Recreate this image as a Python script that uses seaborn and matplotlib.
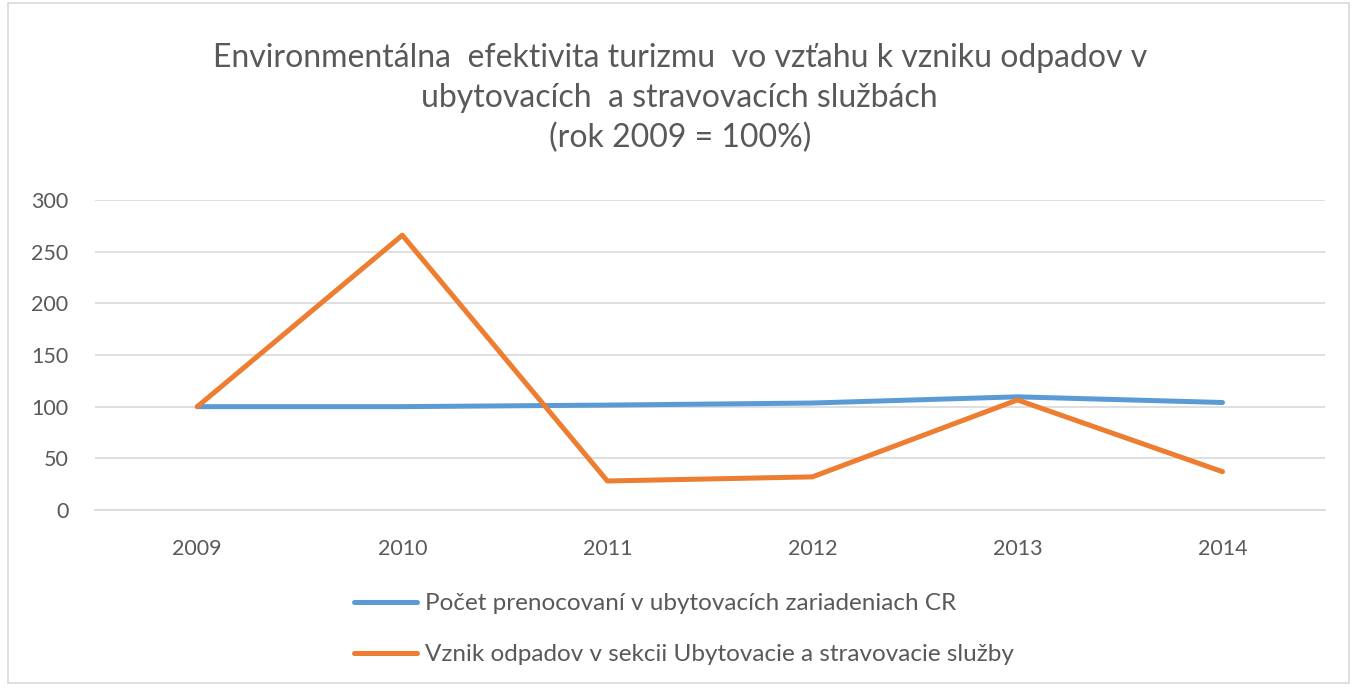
import pandas as pd
import matplotlib.pyplot as plt
import seaborn as sns
from matplotlib.patches import Rectangle

# data
years = ["2009", "2010", "2011", "2012", "2013", "2014"]
prenocovania = [100, 100, 101.5, 103.5, 109.5, 104]
odpady = [100, 266, 28, 32, 106.5, 37]
series_names = [
    "Počet prenocovaní v ubytovacích zariadeniach CR",
    "Vznik odpadov v sekcii Ubytovacie a stravovacie služby",
]
colors = ["#5B9BD5", "#ED7D31"]
y_ticks = [0, 50, 100, 150, 200, 250, 300]

df = pd.DataFrame({
    "rok": years * 2,
    "hodnota": prenocovania + odpady,
    "rad": [series_names[0]] * len(years) + [series_names[1]] * len(years),
})

sns.set_style("white")
plt.rcParams["font.family"] = ["Lato", "DejaVu Sans"]

fig = plt.figure(figsize=(13.54, 6.9), dpi=100)
ax = fig.add_axes([0.070, 0.261, 0.9086, 0.449])

sns.lineplot(data=df, x="rok", y="hodnota", hue="rad", palette=colors,
             linewidth=3.6, sort=False, ax=ax, legend=False)

ax.set_xlim(-0.5, 5.5)
ax.set_ylim(0, 300)
ax.set_yticks(y_ticks)
ax.grid(axis="y", color="#d9d9d9", linewidth=1.2)
ax.set_axisbelow(True)
for s in ["top", "right", "left"]:
    ax.spines[s].set_visible(False)
ax.spines["bottom"].set_color("#d9d9d9")
ax.spines["bottom"].set_linewidth(1.2)
ax.tick_params(axis="both", length=0, labelsize=15.5, labelcolor="#595959")
ax.tick_params(axis="x", pad=21)
ax.tick_params(axis="y", pad=19)
ax.set_xlabel("")
ax.set_ylabel("")

fig.text(0.502, 0.858,
         "Environmentálna  efektivita turizmu  vo vzťahu k vzniku odpadov v\n"
         "ubytovacích  a stravovacích službách\n(rok 2009 = 100%)",
         ha="center", va="center", fontsize=23, color="#595959",
         linespacing=1.4)

handles = [plt.Line2D([], [], color=c, linewidth=3.6) for c in colors]
fig.legend(handles, series_names, loc="center", bbox_to_anchor=(0.505, 0.088),
           frameon=False, fontsize=17.5, labelcolor="#595959",
           handlelength=2.6, handletextpad=0.3, labelspacing=1.25)

fig.patches.append(Rectangle((0.006, 0.01), 0.99, 0.985, transform=fig.transFigure,
                             fill=False, edgecolor="#d9d9d9", linewidth=1.2))

fig.savefig("out.png", dpi=100)
